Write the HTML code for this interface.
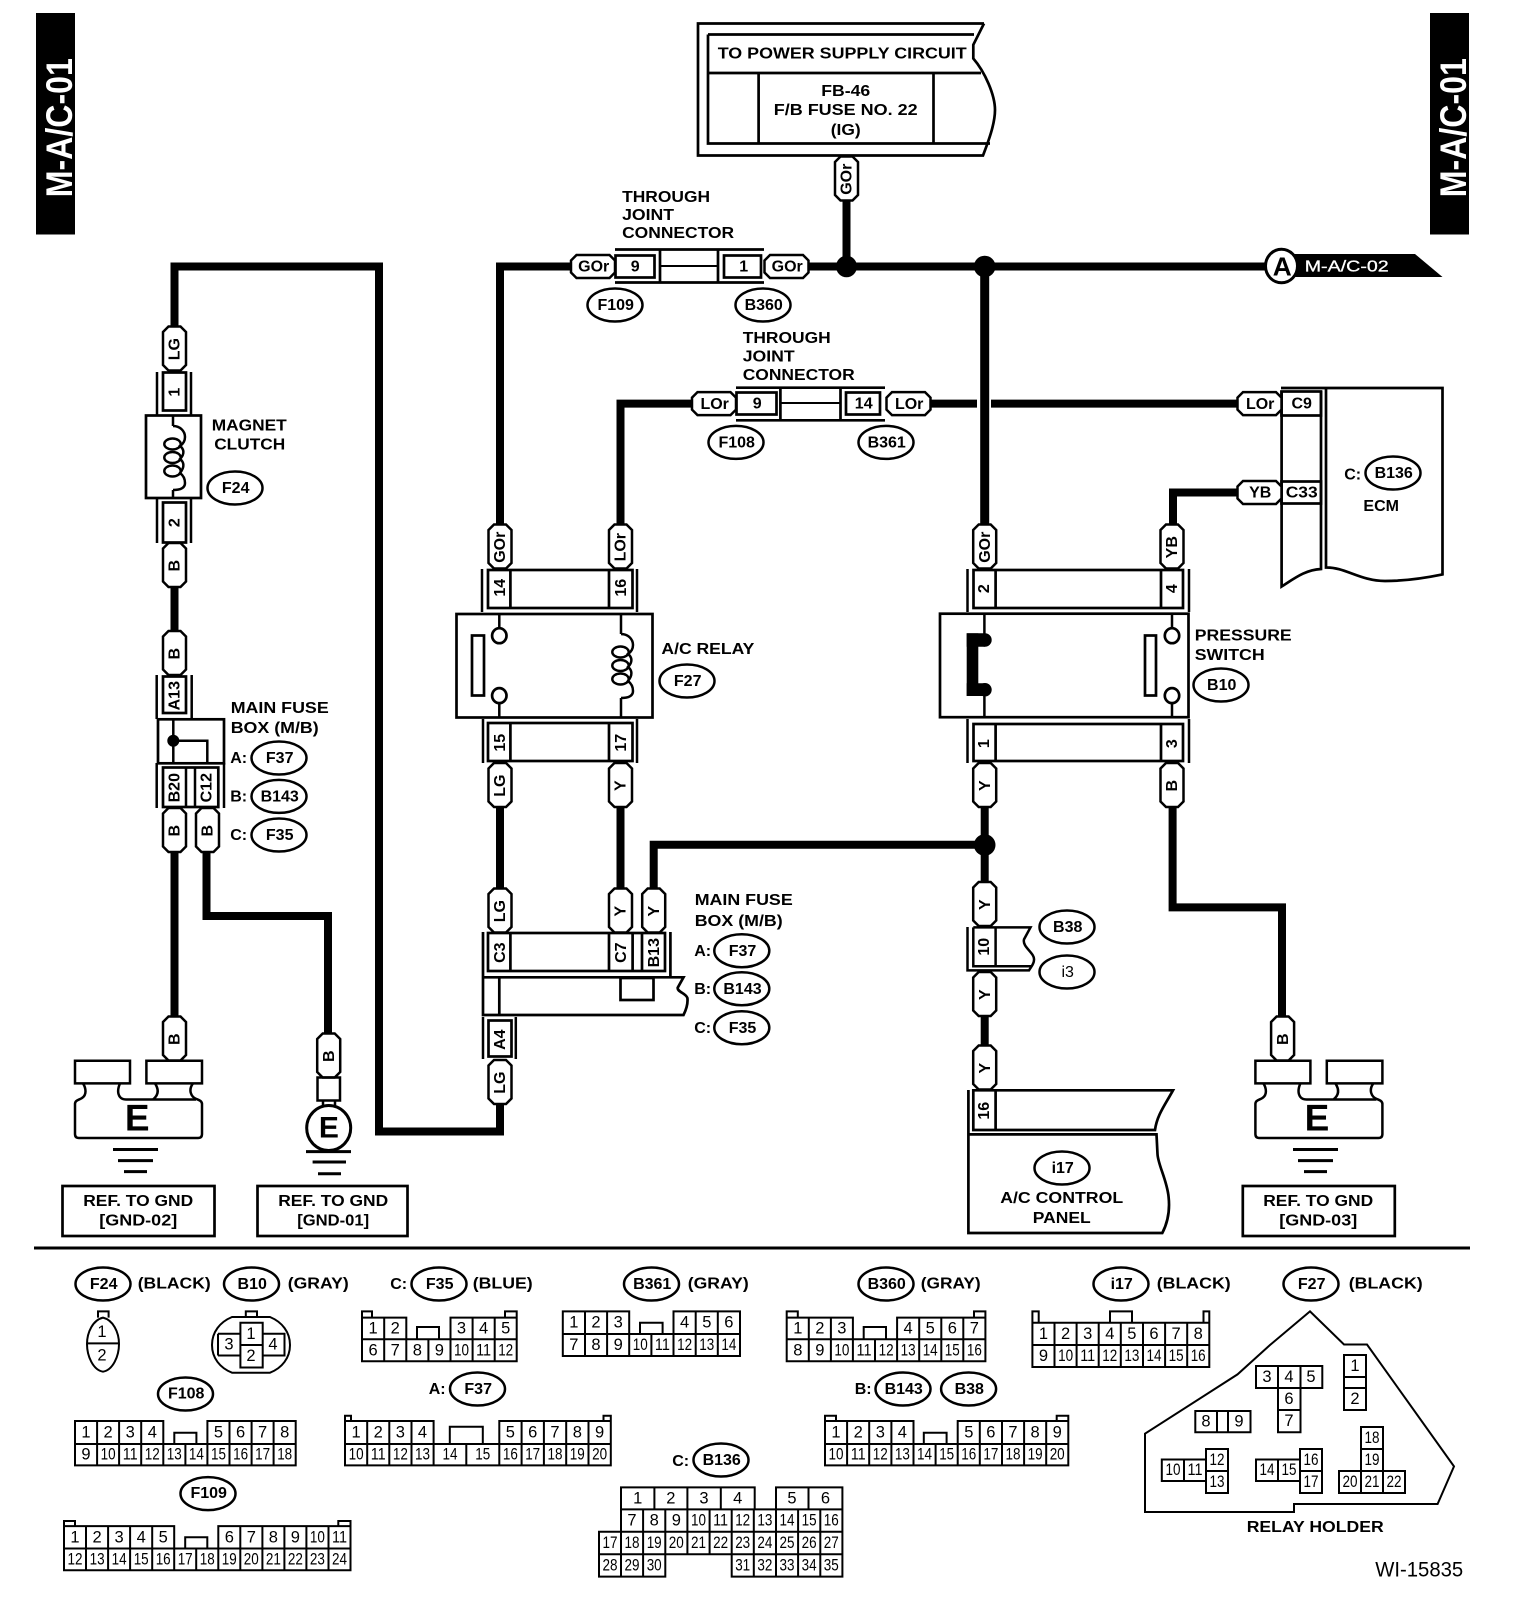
<!DOCTYPE html>
<html><head><meta charset="utf-8"><title>M-A/C-01</title>
<style>
html,body{margin:0;padding:0;background:#fff}
svg{display:block}
text{font-family:"Liberation Sans",sans-serif;font-weight:bold;font-size:16px;text-anchor:middle;dominant-baseline:central;fill:#000;translate:.7px .7px}
.l{text-anchor:start}
.d text{font-weight:normal;font-size:16.5px;translate:none}
.s{fill:none;stroke:#000;stroke-width:2.5}
.c{fill:none;stroke:#000;stroke-width:2}
.b{fill:none;stroke:#000;stroke-width:2.7}
.f{fill:#fff;stroke:#000;stroke-width:2.7}
.w{fill:none;stroke:#000;stroke-width:8;stroke-linejoin:miter}
</style></head><body>
<svg xmlns="http://www.w3.org/2000/svg" width="1520" height="1618" viewBox="0 0 1520 1618">
<defs>
<path id="vt" d="M-11.5,-16.5L-6,-22H6L11.5,-16.5V16.5L6,22H-6L-11.5,16.5Z" fill="#fff" stroke="#000" stroke-width="2.5"/>
<path id="ht" d="M-22,-6L-16.5,-11.5H16.5L22,-6V6L16.5,11.5H-16.5L-22,6Z" fill="#fff" stroke="#000" stroke-width="2.5"/>
<ellipse id="el" rx="27.5" ry="16.5" fill="#fff" stroke="#000" stroke-width="2.5"/>
<g id="gnd" class="s">
<path d="M75,1083.4V1060.7H130V1083.4ZM146.4,1083.4V1060.7H202V1083.4Z"/>
<path d="M83,1083.4C86,1088 87,1095 82,1098C79,1100 75,1100 75,1104V1134Q75,1138 79,1138H198Q202,1138 202,1134V1104C202,1101 199,1100 196.5,1099C191,1097 188,1090 193,1083.4"/>
<path d="M120,1083.4C118,1088 117,1093 120,1097Q122,1099.5 126,1099.5H196M155,1083.4C158,1088 160,1094 153,1099.5"/>
</g>
<g id="gl"><path d="M113,1149.5H158M118,1160.6H153M124,1171.6H147" stroke="#000" stroke-width="3" fill="none"/></g>
<g id="coil">
<path class="s" d="M173,426C180,426 185,431 185,437C185,441 183,444 180,446C184,449 185,454 180,459C184,462 185,467 180,473C184,476 185,480 185,483C185,488 180,490 173,490"/>
<ellipse class="s" cx="172.5" cy="444" rx="8.2" ry="5.5"/><ellipse class="s" cx="172.5" cy="457.5" rx="8.2" ry="5.5"/><ellipse class="s" cx="172.5" cy="471" rx="8.2" ry="5.5"/>
</g>
</defs>

<!-- side bars -->
<rect x="36" y="13" width="39" height="221.5" fill="#000"/>
<rect x="1430" y="13" width="39" height="221.5" fill="#000"/>
<text transform="rotate(-90 59 127)" x="59" y="127" textLength="139" lengthAdjust="spacingAndGlyphs" style="fill:#fff;font-size:37px">M-A/C-01</text>
<text transform="rotate(-90 1453 127)" x="1453" y="127" textLength="139" lengthAdjust="spacingAndGlyphs" style="fill:#fff;font-size:37px">M-A/C-01</text>

<!-- wires -->
<path class="w" d="M174.5,330V266.5H379V1131.5H500V1100"/>
<path class="w" d="M575,266.5H500V530"/>
<path class="w" d="M805,266.5H1270"/>
<path class="w" d="M846.5,195V266.5"/>
<path class="w" style="stroke-width:9" d="M984.7,266.5V530"/>
<path class="w" d="M695,403.6H620.5V530"/>
<path class="w" d="M925,403.6H977M991,403.6H1240"/>
<path class="w" d="M1240,492.5H1173V530"/>
<path class="w" d="M500,800V895M620.5,800V895"/>
<path class="w" d="M653.7,895V844.7H984.7"/>
<path class="w" d="M984.7,800V890M984.7,1010V1050"/>
<path class="w" d="M174.5,580V636M174.5,845V1022"/>
<path class="w" d="M206.5,845V916H328V1040"/>
<path class="w" d="M1172.6,800V907.4H1282V1022"/>
<ellipse cx="846.5" cy="266.5" rx="10.5" ry="10.8"/>
<ellipse cx="984.7" cy="266.5" rx="10.8" ry="10.8"/>
<ellipse cx="984.7" cy="845" rx="10.8" ry="10.8"/>

<!-- fuse box top -->
<path class="b" d="M984,23.5H698V155.5H983C987,145 995,125 995,110C995,95 985,72 973.3,58.5V44.8L984,23.5"/>
<path class="b" d="M708,34.5H974M708,34.5V143.5H990M708,73H981M758.6,73V143.5M933.5,73V143.5"/>
<text x="841.5" y="53.4" textLength="249" lengthAdjust="spacingAndGlyphs">TO POWER SUPPLY CIRCUIT</text>
<text x="845" y="90.6" textLength="49" lengthAdjust="spacingAndGlyphs">FB-46</text>
<text x="845" y="110" textLength="144" lengthAdjust="spacingAndGlyphs">F/B FUSE NO. 22</text>
<text x="845" y="130" textLength="30" lengthAdjust="spacingAndGlyphs">(IG)</text>
<use href="#vt" x="846.5" y="178.5"/>
<text transform="rotate(-90 846.5 178.5)" x="846.5" y="178.5">GOr</text>

<!-- A flag -->
<path d="M1290,254H1415L1442.5,277H1290Z"/>
<ellipse cx="1281.5" cy="266" rx="16" ry="16.8" fill="#fff" stroke="#000" stroke-width="3"/>
<text x="1281.5" y="266" style="font-size:26px" textLength="19" lengthAdjust="spacingAndGlyphs">A</text>
<text x="1346" y="266.5" textLength="84" lengthAdjust="spacingAndGlyphs" style="fill:#fff;font-weight:normal;stroke:#fff;stroke-width:.3">M-A/C-02</text>

<!-- through joint 1 -->
<text class="l" x="621.4" y="197" textLength="88" lengthAdjust="spacingAndGlyphs">THROUGH</text>
<text class="l" x="621.4" y="215" textLength="52" lengthAdjust="spacingAndGlyphs">JOINT</text>
<text class="l" x="621.4" y="233" textLength="112" lengthAdjust="spacingAndGlyphs">CONNECTOR</text>
<path class="b" d="M615,249.5H764M615,282.5H764M660,249.5V282.5M718,249.5V282.5"/>
<path class="c" d="M660,266H718"/>
<rect class="b" x="615.5" y="255.5" width="39" height="22"/>
<rect class="b" x="724" y="255.5" width="37" height="22"/>
<text x="634.5" y="266.5">9</text><text x="743" y="266.5">1</text>
<use href="#ht" x="593" y="266.5"/><text x="593" y="266.5">GOr</text>
<use href="#ht" x="786.5" y="266.5"/><text x="786.5" y="266.5">GOr</text>
<use href="#el" x="615" y="305"/><text x="615" y="305">F109</text>
<use href="#el" x="763" y="305"/><text x="763" y="305">B360</text>

<!-- through joint 2 -->
<text class="l" x="742" y="338" textLength="88" lengthAdjust="spacingAndGlyphs">THROUGH</text>
<text class="l" x="742" y="356.5" textLength="52" lengthAdjust="spacingAndGlyphs">JOINT</text>
<text class="l" x="742" y="375" textLength="112" lengthAdjust="spacingAndGlyphs">CONNECTOR</text>
<path class="b" d="M736,387.7H885M736,420.3H885M780.4,387.7V420.3M840.5,387.7V420.3"/>
<path class="c" d="M780.4,403H840.5"/>
<rect class="b" x="736.5" y="392.5" width="40" height="22"/>
<rect class="b" x="846" y="392.5" width="34" height="22"/>
<text x="756.5" y="403.5">9</text><text x="863" y="403.5">14</text>
<use href="#ht" x="714" y="403.6"/><text x="714" y="403.6">LOr</text>
<use href="#ht" x="908.5" y="403.6"/><text x="908.5" y="403.6">LOr</text>
<use href="#el" x="736" y="442.4"/><text x="736" y="442.4">F108</text>
<use href="#el" x="886" y="442.4"/><text x="886" y="442.4">B361</text>

<!-- ECM -->
<path class="b" d="M1281,388H1442.5V574.4C1425,578 1405,581 1385,581C1360,581 1345,567 1326,567.5V388"/>
<path class="b" d="M1281.6,391V586.5C1295,578 1305,570 1321,569V391"/>
<rect class="b" x="1281.5" y="391.5" width="39.5" height="24"/>
<rect class="b" x="1281.5" y="481.5" width="39.5" height="22"/>
<text x="1301" y="403.5">C9</text><text x="1301" y="492.5" textLength="32" lengthAdjust="spacingAndGlyphs">C33</text>
<use href="#ht" x="1259.5" y="403.6"/><text x="1259.5" y="403.6">LOr</text>
<use href="#ht" x="1259.5" y="492.5"/><text x="1259.5" y="492.5">YB</text>
<text x="1352" y="474.5">C:</text>
<use href="#el" x="1393" y="473"/><text x="1393" y="473">B136</text>
<text x="1380.5" y="506">ECM</text>

<!-- left column -->
<use href="#vt" x="174.5" y="348.5"/><text transform="rotate(-90 174.5 348.5)" x="174.5" y="348.5">LG</text>
<path class="s" d="M157,372V415M191,372V415"/>
<rect class="b" x="163" y="372.5" width="23" height="38"/>
<text transform="rotate(-90 174.5 391.5)" x="174.5" y="391.5">1</text>
<rect class="f" x="146" y="415.5" width="55" height="82.5"/>
<path class="s" d="M173,415V426M173,490V498"/>
<use href="#coil"/>
<text x="248.5" y="425.5" textLength="75" lengthAdjust="spacingAndGlyphs">MAGNET</text>
<text x="249" y="444.5" textLength="71" lengthAdjust="spacingAndGlyphs">CLUTCH</text>
<use href="#el" x="235" y="488"/><text x="235" y="488">F24</text>
<path class="s" d="M157,499V543M191,499V543"/>
<rect class="b" x="163" y="502.5" width="23" height="40"/>
<text transform="rotate(-90 174.5 522)" x="174.5" y="522">2</text>
<use href="#vt" x="174.5" y="565"/><text transform="rotate(-90 174.5 565)" x="174.5" y="565">B</text>
<use href="#vt" x="174.5" y="653"/><text transform="rotate(-90 174.5 653)" x="174.5" y="653">B</text>
<path class="s" d="M156.7,675V719M191.7,675V719"/>
<rect class="b" x="163" y="676.5" width="23" height="36.5"/>
<text transform="rotate(-90 174.5 695)" x="174.5" y="695">A13</text>
<rect class="b" x="158" y="719.3" width="66" height="44"/>
<path class="s" d="M173.3,719V764M173.3,740.7H207.3V764"/>
<circle cx="173.3" cy="740.7" r="6"/>
<path class="s" d="M156.7,763V808M224,763V808"/>
<rect class="b" x="163" y="767.5" width="55.3" height="39.5"/>
<path class="s" d="M186,767V807M195,767V807"/>
<text transform="rotate(-90 174.5 787)" x="174.5" y="787">B20</text>
<text transform="rotate(-90 206.5 787)" x="206.5" y="787">C12</text>
<use href="#vt" x="174.5" y="830"/><text transform="rotate(-90 174.5 830)" x="174.5" y="830">B</text>
<use href="#vt" x="207.5" y="830"/><text transform="rotate(-90 207.5 830)" x="207.5" y="830">B</text>
<text class="l" x="230" y="708" textLength="98" lengthAdjust="spacingAndGlyphs">MAIN FUSE</text>
<text class="l" x="230" y="727.7" textLength="88" lengthAdjust="spacingAndGlyphs">BOX (M/B)</text>
<text x="238" y="757.6">A:</text><use href="#el" x="279" y="758"/><text x="279" y="758">F37</text>
<text x="238" y="796.5">B:</text><use href="#el" x="279" y="796.4"/><text x="279" y="796.4">B143</text>
<text x="238" y="835">C:</text><use href="#el" x="279" y="835"/><text x="279" y="835">F35</text>
<use href="#vt" x="174.5" y="1038.5"/><text transform="rotate(-90 174.5 1038.5)" x="174.5" y="1038.5">B</text>
<use href="#vt" x="328.7" y="1055.5"/><text transform="rotate(-90 328.7 1055.5)" x="328.7" y="1055.5">B</text>

<!-- grounds -->
<use href="#gnd"/>
<use href="#gl"/>
<text x="136.5" y="1117.3" style="font-size:37px">E</text>
<rect class="s" x="317.5" y="1077.5" width="22.5" height="23"/>
<path class="s" d="M323,1100.7V1106M335,1100.7V1106"/>
<ellipse cx="328.7" cy="1128" rx="22" ry="22.5" fill="#fff" stroke="#000" stroke-width="3"/>
<text x="328.2" y="1127.5" style="font-size:30px">E</text>
<path d="M306,1151.6H351M312.6,1162H346M318,1173.7H341" stroke="#000" stroke-width="3" fill="none"/>
<rect class="b" x="62.5" y="1186" width="152" height="50"/>
<text x="137.5" y="1201" textLength="110" lengthAdjust="spacingAndGlyphs">REF. TO GND</text>
<text x="137.5" y="1220.5" textLength="78" lengthAdjust="spacingAndGlyphs">[GND-02]</text>
<rect class="b" x="257.5" y="1186" width="150" height="50"/>
<text x="332.5" y="1201" textLength="110" lengthAdjust="spacingAndGlyphs">REF. TO GND</text>
<text x="332.5" y="1220.5" textLength="72" lengthAdjust="spacingAndGlyphs">[GND-01]</text>
<use href="#gnd" x="1180.4"/>
<use href="#gl" x="1180"/>
<text x="1316.3" y="1117.3" style="font-size:37px">E</text>
<rect class="b" x="1242.8" y="1186" width="152" height="50"/>
<text x="1317.5" y="1201" textLength="110" lengthAdjust="spacingAndGlyphs">REF. TO GND</text>
<text x="1317.5" y="1220.5" textLength="78" lengthAdjust="spacingAndGlyphs">[GND-03]</text>

<!-- A/C relay -->
<use href="#vt" x="500" y="546.5"/><text transform="rotate(-90 500 546.5)" x="500" y="546.5">GOr</text>
<use href="#vt" x="620.5" y="546.5"/><text transform="rotate(-90 620.5 546.5)" x="620.5" y="546.5">LOr</text>
<path class="s" d="M482,569V612M637,569V612"/>
<rect class="b" x="488" y="570" width="144.5" height="38"/>
<path class="b" d="M510.4,569V608M609,569V608"/>
<text transform="rotate(-90 500 587)" x="500" y="587">14</text>
<text transform="rotate(-90 621 587)" x="621" y="587">16</text>
<rect class="f" x="456.5" y="614" width="196" height="103.5"/>
<path class="s" d="M499.3,613V628M499.3,703V718"/>
<ellipse class="b" cx="499.3" cy="635.7" rx="7.2" ry="7.5"/><ellipse class="b" cx="499.3" cy="695.6" rx="7.2" ry="7.5"/>
<rect class="b" x="472" y="635.5" width="12" height="60"/>
<path class="s" d="M621,613V634M621,698V718"/>
<use href="#coil" x="448" y="208"/>
<text class="l" x="660.7" y="649" textLength="93" lengthAdjust="spacingAndGlyphs">A/C RELAY</text>
<use href="#el" x="687" y="681"/><text x="687" y="681">F27</text>
<path class="s" d="M483,719V763M637,719V763"/>
<rect class="b" x="488" y="723" width="144.5" height="38"/>
<path class="b" d="M510.4,723V761M609,723V761"/>
<text transform="rotate(-90 500 742)" x="500" y="742">15</text>
<text transform="rotate(-90 621 742)" x="621" y="742">17</text>
<use href="#vt" x="500" y="785"/><text transform="rotate(-90 500 785)" x="500" y="785">LG</text>
<use href="#vt" x="620.5" y="785"/><text transform="rotate(-90 620.5 785)" x="620.5" y="785">Y</text>

<!-- lower fuse box -->
<use href="#vt" x="500" y="910.5"/><text transform="rotate(-90 500 910.5)" x="500" y="910.5">LG</text>
<use href="#vt" x="620.5" y="910.5"/><text transform="rotate(-90 620.5 910.5)" x="620.5" y="910.5">Y</text>
<use href="#vt" x="653.7" y="910.5"/><text transform="rotate(-90 653.7 910.5)" x="653.7" y="910.5">Y</text>
<path class="b" d="M483,932V1015H683.5C687,1008 688,1003 687.4,998C686,993 677,992 677.7,987.7L683.5,977.3H483M670.4,932V977M499.3,977V1015"/>
<rect class="b" x="488" y="933" width="177" height="38"/>
<path class="b" d="M510.4,933V971M609,933V971M632.6,933V971M642,933V971"/>
<rect class="b" x="620.5" y="978" width="33" height="22"/>
<text transform="rotate(-90 500 952)" x="500" y="952">C3</text>
<text transform="rotate(-90 621 952)" x="621" y="952">C7</text>
<text transform="rotate(-90 654 952)" x="654" y="952">B13</text>
<text class="l" x="694" y="900" textLength="98" lengthAdjust="spacingAndGlyphs">MAIN FUSE</text>
<text class="l" x="694" y="921" textLength="88" lengthAdjust="spacingAndGlyphs">BOX (M/B)</text>
<text x="702" y="950.7">A:</text><use href="#el" x="741.8" y="950.7"/><text x="741.8" y="950.7">F37</text>
<text x="702" y="988.7">B:</text><use href="#el" x="741.8" y="988.7"/><text x="741.8" y="988.7">B143</text>
<text x="702" y="1027.7">C:</text><use href="#el" x="741.8" y="1027.7"/><text x="741.8" y="1027.7">F35</text>
<path class="s" d="M483,1017V1059M515.8,1017V1059"/>
<rect class="b" x="488.5" y="1020.5" width="23" height="36"/>
<text transform="rotate(-90 500 1039)" x="500" y="1039">A4</text>
<use href="#vt" x="500" y="1082"/><text transform="rotate(-90 500 1082)" x="500" y="1082">LG</text>

<!-- pressure switch -->
<use href="#vt" x="984.7" y="546.5"/><text transform="rotate(-90 984.7 546.5)" x="984.7" y="546.5">GOr</text>
<use href="#vt" x="1172" y="546.5"/><text transform="rotate(-90 1172 546.5)" x="1172" y="546.5">YB</text>
<path class="s" d="M967.5,569V612M1189,569V612"/>
<rect class="b" x="973.5" y="570" width="209.5" height="38"/>
<path class="b" d="M995.6,569V608M1161,569V608"/>
<text transform="rotate(-90 984 588)" x="984" y="588">2</text>
<text transform="rotate(-90 1172 588)" x="1172" y="588">4</text>
<rect class="f" x="940" y="613.7" width="248.5" height="103.5"/>
<path class="s" d="M984.4,613V636M984.4,694V718"/>
<rect x="966.7" y="633.3" width="11.6" height="62.7"/>
<path d="M966.7,633.3H985V646.7H966.7ZM966.7,683.3H985V696H966.7Z"/>
<circle cx="985" cy="640" r="6.7"/><circle cx="985" cy="689.7" r="6.7"/>
<path class="s" d="M1172,613V628M1172,703V718"/>
<ellipse class="b" cx="1172" cy="635.7" rx="7.2" ry="7.5"/><ellipse class="b" cx="1172" cy="695.6" rx="7.2" ry="7.5"/>
<rect class="b" x="1145" y="635.5" width="11" height="60"/>
<text class="l" x="1194" y="635.4" textLength="97" lengthAdjust="spacingAndGlyphs">PRESSURE</text>
<text class="l" x="1194" y="654.7" textLength="70" lengthAdjust="spacingAndGlyphs">SWITCH</text>
<use href="#el" x="1221" y="685"/><text x="1221" y="685">B10</text>
<path class="s" d="M967.5,719V763M1189,719V763"/>
<rect class="b" x="973.5" y="724" width="209.5" height="37"/>
<path class="b" d="M995.6,724V761M1161,724V761"/>
<text transform="rotate(-90 984 743)" x="984" y="743">1</text>
<text transform="rotate(-90 1172 743)" x="1172" y="743">3</text>
<use href="#vt" x="984.7" y="785"/><text transform="rotate(-90 984.7 785)" x="984.7" y="785">Y</text>
<use href="#vt" x="1172" y="785"/><text transform="rotate(-90 1172 785)" x="1172" y="785">B</text>
<use href="#vt" x="1282.6" y="1038.5"/><text transform="rotate(-90 1282.6 1038.5)" x="1282.6" y="1038.5">B</text>

<!-- connector 10 -->
<use href="#vt" x="984.7" y="904"/><text transform="rotate(-90 984.7 904)" x="984.7" y="904">Y</text>
<path class="s" d="M973.3,927.4H1030.5L1024,939.4C1022,947 1035,953 1034,960C1034,964 1031,967 1029,970.4H967.5V927M973.3,927.4V966.3H1032M995.6,927.4V966.3"/>
<text transform="rotate(-90 984 946)" x="984" y="946">10</text>
<use href="#el" x="1067" y="927"/><text x="1067" y="927">B38</text>
<use href="#el" x="1067" y="972"/><text x="1067" y="972" style="font-weight:normal">i3</text>
<use href="#vt" x="984.7" y="994"/><text transform="rotate(-90 984.7 994)" x="984.7" y="994">Y</text>
<use href="#vt" x="984.7" y="1067.5"/><text transform="rotate(-90 984.7 1067.5)" x="984.7" y="1067.5">Y</text>

<!-- A/C control panel -->
<path class="b" d="M973.3,1090.3H1173C1165,1105 1157,1115 1155,1130H973.3ZM995.6,1090.3V1130"/>
<path class="b" d="M968.4,1090V1233H1162.3C1168,1222 1170,1210 1168.6,1197C1167,1180 1158,1165 1157.5,1154L1156.5,1134.4H968.4"/>
<text transform="rotate(-90 984 1110)" x="984" y="1110">16</text>
<use href="#el" x="1062" y="1168"/><text x="1062" y="1168">i17</text>
<text x="1061" y="1197.8" textLength="123" lengthAdjust="spacingAndGlyphs">A/C CONTROL</text>
<text x="1061" y="1217.7" textLength="58" lengthAdjust="spacingAndGlyphs">PANEL</text>

<!-- separator -->
<rect x="34" y="1246.5" width="1436" height="3"/>

<!-- legend headings -->
<use href="#el" x="103" y="1284"/><text x="103" y="1284">F24</text>
<text x="173.5" y="1283.5" textLength="73" lengthAdjust="spacingAndGlyphs">(BLACK)</text>
<use href="#el" x="251.5" y="1284"/><text x="251.5" y="1284">B10</text>
<text x="317.5" y="1283.5" textLength="61" lengthAdjust="spacingAndGlyphs">(GRAY)</text>
<text x="398" y="1284">C:</text>
<use href="#el" x="439" y="1284"/><text x="439" y="1284">F35</text>
<text x="502" y="1283.5" textLength="60" lengthAdjust="spacingAndGlyphs">(BLUE)</text>
<use href="#el" x="651.5" y="1284"/><text x="651.5" y="1284">B361</text>
<text x="717.5" y="1283.5" textLength="61" lengthAdjust="spacingAndGlyphs">(GRAY)</text>
<use href="#el" x="886" y="1284"/><text x="886" y="1284">B360</text>
<text x="950" y="1283.5" textLength="60" lengthAdjust="spacingAndGlyphs">(GRAY)</text>
<use href="#el" x="1121" y="1284"/><text x="1121" y="1284">i17</text>
<text x="1193" y="1283.5" textLength="74" lengthAdjust="spacingAndGlyphs">(BLACK)</text>
<use href="#el" x="1311" y="1284"/><text x="1311" y="1284">F27</text>
<text x="1385" y="1283.5" textLength="74" lengthAdjust="spacingAndGlyphs">(BLACK)</text>
<use href="#el" x="185.5" y="1394"/><text x="185.5" y="1393.5">F108</text>
<text x="436.5" y="1389">A:</text>
<use href="#el" x="477.5" y="1389"/><text x="477.5" y="1389">F37</text>
<text x="862.5" y="1389">B:</text>
<use href="#el" x="903" y="1389"/><text x="903" y="1389">B143</text>
<use href="#el" x="968.6" y="1389"/><text x="968.6" y="1389">B38</text>
<use href="#el" x="208" y="1493.6"/><text x="208" y="1493">F109</text>
<text x="680" y="1461">C:</text>
<use href="#el" x="721" y="1460"/><text x="721" y="1459.7">B136</text>

<!-- F24 connector -->
<g class="d">
<path class="c" d="M98,1317.6V1311.4H108.6V1317.6M103,1317.6C93,1320 87,1332 87,1344C87,1356 93,1370 103,1371.7C113,1370 119,1356 119,1344C119,1332 113,1320 103,1317.6ZM87,1343.4H119"/>
<text x="102" y="1332">1</text><text x="102" y="1355.5">2</text>
<!-- B10 connector -->
<path class="c" d="M245.8,1317V1311.4H257V1317M232,1317H270C282,1322 290,1332 290,1345C290,1358 282,1368 270,1372.7H232C220,1368 212,1358 212,1345C212,1332 220,1322 232,1317Z"/>
<path class="c" d="M240.4,1322.8H262.7V1367.5H240.4ZM240.4,1345H262.7M218,1333.8H240.4M218,1355.5H240.4M218,1333.8V1355.5M262.7,1333.8H284.5V1355.5H262.7"/>
<text x="251" y="1334">1</text><text x="251" y="1356">2</text><text x="229" y="1344.5">3</text><text x="273" y="1344.5">4</text>

<!-- F35 -->
<path class="c" d="M362,1317.6H406.3V1339.3H450.5V1317.6H516.7V1361.3H362ZM362,1339.3H516.7M384.2,1317.6V1361.3M406.3,1339.3V1361.3M428.4,1339.3V1361.3M450.5,1339.3V1361.3M472.6,1317.6V1361.3M494.7,1317.6V1361.3M417,1339.3V1327H439V1339.3M362,1317.6V1311.4H372V1317.6M505,1317.6V1311.4H516.7V1317.6"/>
<text x="373.1" y="1328.5">1</text><text x="395.2" y="1328.5">2</text><text x="461.5" y="1328.5">3</text><text x="483.6" y="1328.5">4</text><text x="505.7" y="1328.5">5</text>
<text x="373.1" y="1350.3">6</text><text x="395.2" y="1350.3">7</text><text x="417.3" y="1350.3">8</text><text x="439.4" y="1350.3">9</text>
<text x="461.5" y="1350.3" textLength="15" lengthAdjust="spacingAndGlyphs">10</text><text x="483.6" y="1350.3" textLength="15" lengthAdjust="spacingAndGlyphs">11</text><text x="505.7" y="1350.3" textLength="15" lengthAdjust="spacingAndGlyphs">12</text>

<!-- B361 -->
<path class="c" d="M562.8,1311.4H629.2V1334H673.5V1311.4H740V1356H562.8ZM562.8,1334H740M585,1311.4V1356M607.1,1311.4V1356M629.2,1334V1356M651.4,1334V1356M673.5,1334V1356M695.7,1311.4V1356M717.8,1311.4V1356M640,1334V1322.8H662.6V1334"/>
<text x="573.9" y="1322.7">1</text><text x="596" y="1322.7">2</text><text x="618.2" y="1322.7">3</text><text x="684.6" y="1322.7">4</text><text x="706.8" y="1322.7">5</text><text x="728.9" y="1322.7">6</text>
<text x="573.9" y="1345">7</text><text x="596" y="1345">8</text><text x="618.2" y="1345">9</text>
<text x="640.3" y="1345" textLength="15" lengthAdjust="spacingAndGlyphs">10</text><text x="662.4" y="1345" textLength="15" lengthAdjust="spacingAndGlyphs">11</text><text x="684.6" y="1345" textLength="15" lengthAdjust="spacingAndGlyphs">12</text><text x="706.8" y="1345" textLength="15" lengthAdjust="spacingAndGlyphs">13</text><text x="728.9" y="1345" textLength="15" lengthAdjust="spacingAndGlyphs">14</text>

<!-- B360 -->
<path class="c" d="M786.7,1317.6H852.9V1339.3H897.1V1317.6H985.4V1361.3H786.7ZM786.7,1339.3H985.4M808.8,1317.6V1361.3M830.9,1317.6V1361.3M852.9,1339.3V1361.3M875,1339.3V1361.3M897.1,1339.3V1361.3M919.2,1317.6V1361.3M941.3,1317.6V1361.3M963.3,1317.6V1361.3M863.7,1339.3V1327H886V1339.3M786.7,1317.6V1311.4H797.8V1317.6M974,1317.6V1311.4H985.4V1317.6"/>
<text x="797.8" y="1328.5">1</text><text x="819.8" y="1328.5">2</text><text x="841.9" y="1328.5">3</text><text x="908.1" y="1328.5">4</text><text x="930.2" y="1328.5">5</text><text x="952.3" y="1328.5">6</text><text x="974.4" y="1328.5">7</text>
<text x="797.8" y="1350.3">8</text><text x="819.8" y="1350.3">9</text>
<text x="841.9" y="1350.3" textLength="15" lengthAdjust="spacingAndGlyphs">10</text><text x="864" y="1350.3" textLength="15" lengthAdjust="spacingAndGlyphs">11</text><text x="886.1" y="1350.3" textLength="15" lengthAdjust="spacingAndGlyphs">12</text><text x="908.1" y="1350.3" textLength="15" lengthAdjust="spacingAndGlyphs">13</text><text x="930.2" y="1350.3" textLength="15" lengthAdjust="spacingAndGlyphs">14</text><text x="952.3" y="1350.3" textLength="15" lengthAdjust="spacingAndGlyphs">15</text><text x="974.4" y="1350.3" textLength="15" lengthAdjust="spacingAndGlyphs">16</text>

<!-- i17 -->
<path class="c" d="M1032.4,1322.8H1209.3V1367H1032.4ZM1032.4,1345H1209.3M1054.5,1322.8V1367M1076.6,1322.8V1367M1098.7,1322.8V1367M1120.8,1322.8V1367M1143,1322.8V1367M1165.1,1322.8V1367M1187.2,1322.8V1367M1032.4,1322.8V1311.4H1038.7V1322.8M1203.5,1322.8V1311.4H1209.3V1322.8M1110,1322.8V1311.4H1132V1322.8"/>
<text x="1043.5" y="1334">1</text><text x="1065.6" y="1334">2</text><text x="1087.7" y="1334">3</text><text x="1109.8" y="1334">4</text><text x="1131.9" y="1334">5</text><text x="1154" y="1334">6</text><text x="1176.1" y="1334">7</text><text x="1198.2" y="1334">8</text>
<text x="1043.5" y="1356">9</text>
<text x="1065.6" y="1356" textLength="15" lengthAdjust="spacingAndGlyphs">10</text><text x="1087.7" y="1356" textLength="15" lengthAdjust="spacingAndGlyphs">11</text><text x="1109.8" y="1356" textLength="15" lengthAdjust="spacingAndGlyphs">12</text><text x="1131.9" y="1356" textLength="15" lengthAdjust="spacingAndGlyphs">13</text><text x="1154" y="1356" textLength="15" lengthAdjust="spacingAndGlyphs">14</text><text x="1176.1" y="1356" textLength="15" lengthAdjust="spacingAndGlyphs">15</text><text x="1198.2" y="1356" textLength="15" lengthAdjust="spacingAndGlyphs">16</text>

<!-- F108 -->
<g transform="translate(0,-1)">
<path class="c" d="M75,1422H163.3V1445H207.4V1422H295.7V1466.4H75ZM75,1445H295.7M97.1,1422V1466.4M119.1,1422V1466.4M141.2,1422V1466.4M163.3,1445V1466.4M185.4,1445V1466.4M207.4,1445V1466.4M229.5,1422V1466.4M251.6,1422V1466.4M273.6,1422V1466.4M174.3,1445V1433.7H196.4V1445"/>
<text x="86" y="1433.5">1</text><text x="108.1" y="1433.5">2</text><text x="130.2" y="1433.5">3</text><text x="152.3" y="1433.5">4</text><text x="218.5" y="1433.5">5</text><text x="240.6" y="1433.5">6</text><text x="262.6" y="1433.5">7</text><text x="284.7" y="1433.5">8</text>
<text x="86" y="1455.7">9</text>
<text x="108.1" y="1455.7" textLength="15" lengthAdjust="spacingAndGlyphs">10</text><text x="130.2" y="1455.7" textLength="15" lengthAdjust="spacingAndGlyphs">11</text><text x="152.3" y="1455.7" textLength="15" lengthAdjust="spacingAndGlyphs">12</text><text x="174.3" y="1455.7" textLength="15" lengthAdjust="spacingAndGlyphs">13</text><text x="196.4" y="1455.7" textLength="15" lengthAdjust="spacingAndGlyphs">14</text><text x="218.5" y="1455.7" textLength="15" lengthAdjust="spacingAndGlyphs">15</text><text x="240.6" y="1455.7" textLength="15" lengthAdjust="spacingAndGlyphs">16</text><text x="262.6" y="1455.7" textLength="15" lengthAdjust="spacingAndGlyphs">17</text><text x="284.7" y="1455.7" textLength="15" lengthAdjust="spacingAndGlyphs">18</text>

<!-- F37 -->
<path class="c" d="M345,1422H433.6V1445H499.3V1422H610.8V1466.4H345ZM345,1445H610.8M367.2,1422V1466.4M389.3,1422V1466.4M411.5,1422V1466.4M433.6,1445V1466.4M466.3,1445V1466.4M499.3,1445V1466.4M521.6,1422V1466.4M543.9,1422V1466.4M566.2,1422V1466.4M588.5,1422V1466.4M449.8,1445V1427.8H482.8V1445M345,1422V1416.8H351V1422M603.5,1422V1416.8H610.8V1422"/>
<text x="356.1" y="1433.5">1</text><text x="378.2" y="1433.5">2</text><text x="400.4" y="1433.5">3</text><text x="422.5" y="1433.5">4</text><text x="510.4" y="1433.5">5</text><text x="532.7" y="1433.5">6</text><text x="555" y="1433.5">7</text><text x="577.3" y="1433.5">8</text><text x="599.6" y="1433.5">9</text>
<text x="356.1" y="1455.7" textLength="15" lengthAdjust="spacingAndGlyphs">10</text><text x="378.2" y="1455.7" textLength="15" lengthAdjust="spacingAndGlyphs">11</text><text x="400.4" y="1455.7" textLength="15" lengthAdjust="spacingAndGlyphs">12</text><text x="422.5" y="1455.7" textLength="15" lengthAdjust="spacingAndGlyphs">13</text><text x="450" y="1455.7" textLength="15" lengthAdjust="spacingAndGlyphs">14</text><text x="482.8" y="1455.7" textLength="15" lengthAdjust="spacingAndGlyphs">15</text><text x="510.4" y="1455.7" textLength="15" lengthAdjust="spacingAndGlyphs">16</text><text x="532.7" y="1455.7" textLength="15" lengthAdjust="spacingAndGlyphs">17</text><text x="555" y="1455.7" textLength="15" lengthAdjust="spacingAndGlyphs">18</text><text x="577.3" y="1455.7" textLength="15" lengthAdjust="spacingAndGlyphs">19</text><text x="599.6" y="1455.7" textLength="15" lengthAdjust="spacingAndGlyphs">20</text>

<!-- B143/B38 -->
<path class="c" d="M825,1422H913.5V1445H957.7V1422H1068.3V1466.4H825ZM825,1445H1068.3M847.1,1422V1466.4M869.2,1422V1466.4M891.4,1422V1466.4M913.5,1445V1466.4M935.6,1445V1466.4M957.7,1445V1466.4M979.8,1422V1466.4M1002,1422V1466.4M1024.1,1422V1466.4M1046.2,1422V1466.4M923.8,1445V1433.7H946.6V1445M825,1422V1416.8H836V1422M1056.7,1422V1416.8H1068.3V1422"/>
<text x="836" y="1433.5">1</text><text x="858.2" y="1433.5">2</text><text x="880.3" y="1433.5">3</text><text x="902.4" y="1433.5">4</text><text x="968.8" y="1433.5">5</text><text x="990.9" y="1433.5">6</text><text x="1013" y="1433.5">7</text><text x="1035.1" y="1433.5">8</text><text x="1057.2" y="1433.5">9</text>
<text x="836" y="1455.7" textLength="15" lengthAdjust="spacingAndGlyphs">10</text><text x="858.2" y="1455.7" textLength="15" lengthAdjust="spacingAndGlyphs">11</text><text x="880.3" y="1455.7" textLength="15" lengthAdjust="spacingAndGlyphs">12</text><text x="902.4" y="1455.7" textLength="15" lengthAdjust="spacingAndGlyphs">13</text><text x="924.5" y="1455.7" textLength="15" lengthAdjust="spacingAndGlyphs">14</text><text x="946.7" y="1455.7" textLength="15" lengthAdjust="spacingAndGlyphs">15</text><text x="968.8" y="1455.7" textLength="15" lengthAdjust="spacingAndGlyphs">16</text><text x="990.9" y="1455.7" textLength="15" lengthAdjust="spacingAndGlyphs">17</text><text x="1013" y="1455.7" textLength="15" lengthAdjust="spacingAndGlyphs">18</text><text x="1035.1" y="1455.7" textLength="15" lengthAdjust="spacingAndGlyphs">19</text><text x="1057.2" y="1455.7" textLength="15" lengthAdjust="spacingAndGlyphs">20</text>
</g>

<!-- F109 -->
<g transform="translate(0,-1.5)">
<path class="c" d="M64,1527.6H174.2V1550H218.3V1527.6H350.5V1571.7H64ZM64,1550H350.5M86,1527.6V1571.7M108.1,1527.6V1571.7M130.1,1527.6V1571.7M152.2,1527.6V1571.7M174.2,1550V1571.7M196.2,1550V1571.7M218.3,1550V1571.7M240.3,1527.6V1571.7M262.4,1527.6V1571.7M284.4,1527.6V1571.7M306.4,1527.6V1571.7M328.5,1527.6V1571.7M185.2,1550V1538.7H207.3V1550M64,1527.6V1522.5H75V1527.6M338.3,1527.6V1522.5H350.5V1527.6"/>
<text x="75" y="1538.8">1</text><text x="97.1" y="1538.8">2</text><text x="119.1" y="1538.8">3</text><text x="141.2" y="1538.8">4</text><text x="163.2" y="1538.8">5</text><text x="229.3" y="1538.8">6</text><text x="251.3" y="1538.8">7</text><text x="273.4" y="1538.8">8</text><text x="295.4" y="1538.8">9</text><text x="317.4" y="1538.8" textLength="15" lengthAdjust="spacingAndGlyphs">10</text><text x="339.5" y="1538.8" textLength="15" lengthAdjust="spacingAndGlyphs">11</text>
<text x="75" y="1560.9" textLength="15" lengthAdjust="spacingAndGlyphs">12</text><text x="97.1" y="1560.9" textLength="15" lengthAdjust="spacingAndGlyphs">13</text><text x="119.1" y="1560.9" textLength="15" lengthAdjust="spacingAndGlyphs">14</text><text x="141.2" y="1560.9" textLength="15" lengthAdjust="spacingAndGlyphs">15</text><text x="163.2" y="1560.9" textLength="15" lengthAdjust="spacingAndGlyphs">16</text><text x="185.2" y="1560.9" textLength="15" lengthAdjust="spacingAndGlyphs">17</text><text x="207.3" y="1560.9" textLength="15" lengthAdjust="spacingAndGlyphs">18</text><text x="229.3" y="1560.9" textLength="15" lengthAdjust="spacingAndGlyphs">19</text><text x="251.3" y="1560.9" textLength="15" lengthAdjust="spacingAndGlyphs">20</text><text x="273.4" y="1560.9" textLength="15" lengthAdjust="spacingAndGlyphs">21</text><text x="295.4" y="1560.9" textLength="15" lengthAdjust="spacingAndGlyphs">22</text><text x="317.4" y="1560.9" textLength="15" lengthAdjust="spacingAndGlyphs">23</text><text x="339.5" y="1560.9" textLength="15" lengthAdjust="spacingAndGlyphs">24</text>
</g>

<!-- B136 -->
<g transform="translate(0,-1)">
<path class="c" d="M621,1488.4H754.7V1510.4H776V1488.4H842.4V1577.6H731.7V1555.2H665.3V1577.6H599V1532.8H621ZM621,1510.4H842.4M599,1532.8H842.4M599,1555.2H842.4M654.4,1488.4V1510.4M687.4,1488.4V1510.4M720.8,1488.4V1510.4M808.5,1488.4V1510.4M643.1,1510.4V1577.6M621,1532.8V1577.6M665.3,1510.4V1555.2M687.4,1510.4V1555.2M709.6,1510.4V1555.2M731.7,1510.4V1555.2M753.8,1510.4V1577.6M776,1510.4V1577.6M798.1,1510.4V1577.6M820.3,1510.4V1577.6"/>
<text x="637.7" y="1499.4">1</text><text x="670.9" y="1499.4">2</text><text x="704" y="1499.4">3</text><text x="737.7" y="1499.4">4</text><text x="792" y="1499.4">5</text><text x="825.5" y="1499.4">6</text>
<text x="632" y="1521.6">7</text><text x="654.2" y="1521.6">8</text><text x="676.3" y="1521.6">9</text>
<text x="698.5" y="1521.6" textLength="15" lengthAdjust="spacingAndGlyphs">10</text><text x="720.6" y="1521.6" textLength="15" lengthAdjust="spacingAndGlyphs">11</text><text x="742.7" y="1521.6" textLength="15" lengthAdjust="spacingAndGlyphs">12</text><text x="764.9" y="1521.6" textLength="15" lengthAdjust="spacingAndGlyphs">13</text><text x="787" y="1521.6" textLength="15" lengthAdjust="spacingAndGlyphs">14</text><text x="809.1" y="1521.6" textLength="15" lengthAdjust="spacingAndGlyphs">15</text><text x="831.3" y="1521.6" textLength="15" lengthAdjust="spacingAndGlyphs">16</text>
<text x="610" y="1544" textLength="15" lengthAdjust="spacingAndGlyphs">17</text><text x="632" y="1544" textLength="15" lengthAdjust="spacingAndGlyphs">18</text><text x="654.2" y="1544" textLength="15" lengthAdjust="spacingAndGlyphs">19</text><text x="676.3" y="1544" textLength="15" lengthAdjust="spacingAndGlyphs">20</text><text x="698.5" y="1544" textLength="15" lengthAdjust="spacingAndGlyphs">21</text><text x="720.6" y="1544" textLength="15" lengthAdjust="spacingAndGlyphs">22</text><text x="742.7" y="1544" textLength="15" lengthAdjust="spacingAndGlyphs">23</text><text x="764.9" y="1544" textLength="15" lengthAdjust="spacingAndGlyphs">24</text><text x="787" y="1544" textLength="15" lengthAdjust="spacingAndGlyphs">25</text><text x="809.1" y="1544" textLength="15" lengthAdjust="spacingAndGlyphs">26</text><text x="831.3" y="1544" textLength="15" lengthAdjust="spacingAndGlyphs">27</text>
<text x="610" y="1566.4" textLength="15" lengthAdjust="spacingAndGlyphs">28</text><text x="632" y="1566.4" textLength="15" lengthAdjust="spacingAndGlyphs">29</text><text x="654.2" y="1566.4" textLength="15" lengthAdjust="spacingAndGlyphs">30</text><text x="742.7" y="1566.4" textLength="15" lengthAdjust="spacingAndGlyphs">31</text><text x="764.9" y="1566.4" textLength="15" lengthAdjust="spacingAndGlyphs">32</text><text x="787" y="1566.4" textLength="15" lengthAdjust="spacingAndGlyphs">33</text><text x="809.1" y="1566.4" textLength="15" lengthAdjust="spacingAndGlyphs">34</text><text x="831.3" y="1566.4" textLength="15" lengthAdjust="spacingAndGlyphs">35</text>
</g>

<!-- relay holder -->
<path class="c" d="M1310,1311.4L1344,1344.5H1367L1454,1466.4L1437.6,1504H1294V1512H1145V1433.7L1237.5,1374.4L1270,1345Z"/>
<g transform="translate(0,-1)">
<path class="c" d="M1256,1367H1322.3V1389H1256ZM1278,1367V1433.3H1300.5V1367M1278,1411H1300.5"/>
<path class="c" d="M1344,1356H1366V1411H1344ZM1344,1378H1366M1344,1389H1366"/>
<path class="c" d="M1195.3,1412H1250.5V1433.3H1195.3ZM1217,1412V1433.3M1228,1412V1433.3"/>
<path class="c" d="M1161.8,1460.5H1206V1482H1161.8ZM1184,1460.5V1482M1206,1450H1228V1494H1206ZM1206,1472H1228"/>
<path class="c" d="M1256,1460.5H1300V1482H1256ZM1278,1460.5V1482M1300,1450H1322V1494H1300ZM1300,1472H1322"/>
<path class="c" d="M1361,1428H1383V1494H1361ZM1361,1450H1383M1361,1472H1383M1339,1472H1405V1494H1339Z"/>
<text x="1267" y="1378">3</text><text x="1289" y="1378">4</text><text x="1311" y="1378">5</text><text x="1289" y="1400">6</text><text x="1289" y="1422">7</text>
<text x="1355" y="1367">1</text><text x="1355" y="1400">2</text>
<text x="1206" y="1422.7">8</text><text x="1239" y="1422.7">9</text>
<text x="1173" y="1471" textLength="15" lengthAdjust="spacingAndGlyphs">10</text><text x="1195" y="1471" textLength="15" lengthAdjust="spacingAndGlyphs">11</text><text x="1217" y="1461" textLength="15" lengthAdjust="spacingAndGlyphs">12</text><text x="1217" y="1483" textLength="15" lengthAdjust="spacingAndGlyphs">13</text>
<text x="1267" y="1471" textLength="15" lengthAdjust="spacingAndGlyphs">14</text><text x="1289" y="1471" textLength="15" lengthAdjust="spacingAndGlyphs">15</text><text x="1311" y="1461" textLength="15" lengthAdjust="spacingAndGlyphs">16</text><text x="1311" y="1483" textLength="15" lengthAdjust="spacingAndGlyphs">17</text>
<text x="1372" y="1439" textLength="15" lengthAdjust="spacingAndGlyphs">18</text><text x="1372" y="1461" textLength="15" lengthAdjust="spacingAndGlyphs">19</text><text x="1350" y="1483" textLength="15" lengthAdjust="spacingAndGlyphs">20</text><text x="1372" y="1483" textLength="15" lengthAdjust="spacingAndGlyphs">21</text><text x="1394" y="1483" textLength="15" lengthAdjust="spacingAndGlyphs">22</text>
</g>
</g>
<text x="1314.5" y="1526.6" textLength="137" lengthAdjust="spacingAndGlyphs">RELAY HOLDER</text>
<text x="1418.5" y="1569.5" textLength="88" lengthAdjust="spacingAndGlyphs" style="font-weight:normal;font-size:21px">WI-15835</text>
</svg>
</body></html>
